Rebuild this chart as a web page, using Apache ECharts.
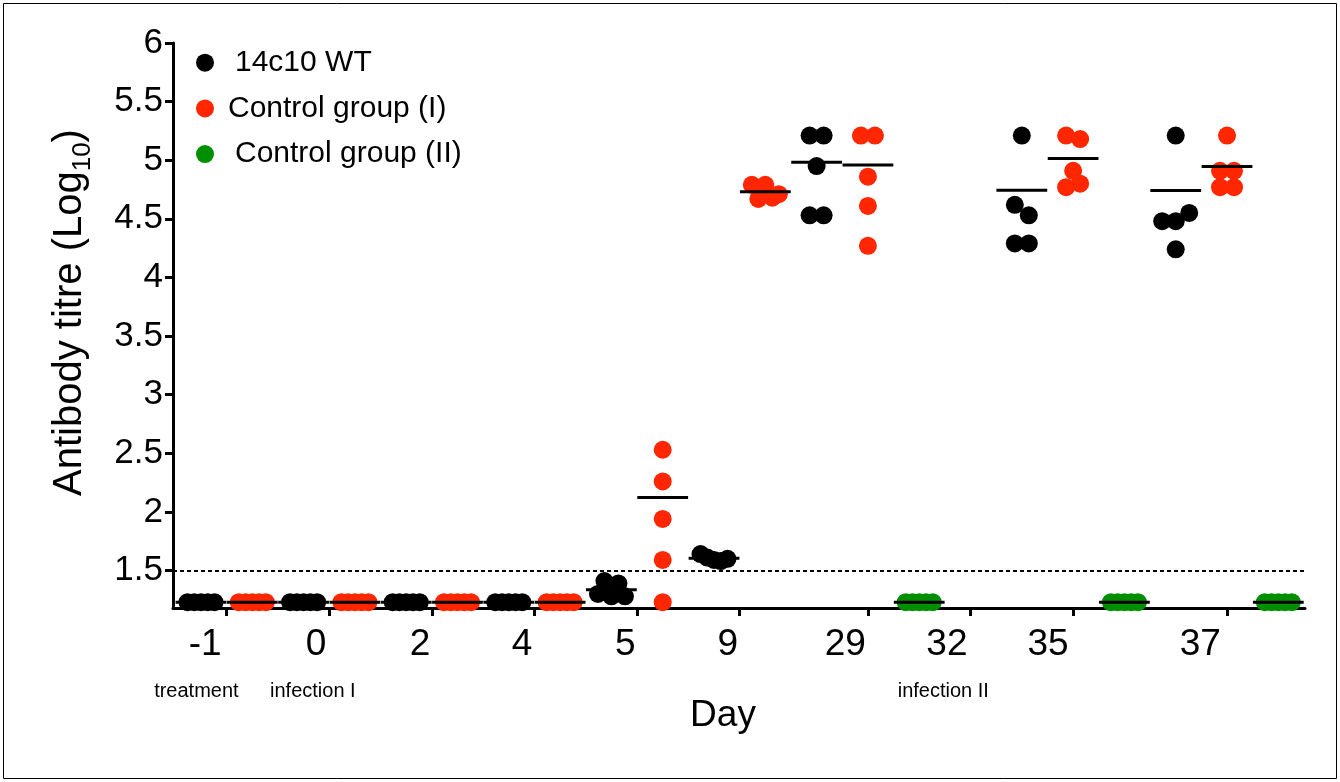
<!DOCTYPE html>
<html>
<head>
<meta charset="utf-8">
<script src="https://cdn.jsdelivr.net/npm/echarts@6/dist/echarts.min.js"></script>
<style>
  html, body { margin: 0; padding: 0; background: #fff; }
  #chart { width: 1340px; height: 782px; }
</style>
</head>
<body>
<div id="chart"></div>
<script>
// Study days on the x axis and the events marked beneath them
const dayLabels = ['-1', '0', '2', '4', '5', '9', '29', '32', '35', '37'];
const eventLabels = ['treatment', 'infection I', 'infection II'];
const groupNames = ['14c10 WT', 'Control group (I)', 'Control group (II)'];
const titreTicks = [1.5, 2, 2.5, 3, 3.5, 4, 4.5, 5, 5.5, 6];
const detectionLimit = 1.5;

// One column per group and day: index into groupNames (null = empty column)
const columnGroup = [0, 1, 0, 1, 0, 1, 0, 1, 0, 1, 0, 1, 0, 1, 2, null, 0, 1, 2, 0, 1, 2];

// Antibody titres (log10), five animals per column
const columnTitres = [
  [1.23, 1.23, 1.23, 1.23, 1.23],   // day -1, 14c10 WT
  [1.23, 1.23, 1.23, 1.23, 1.23],   // day -1, control I
  [1.23, 1.23, 1.23, 1.23, 1.23],   // day 0
  [1.23, 1.23, 1.23, 1.23, 1.23],
  [1.23, 1.23, 1.23, 1.23, 1.23],   // day 2
  [1.23, 1.23, 1.23, 1.23, 1.23],
  [1.23, 1.23, 1.23, 1.23, 1.23],   // day 4
  [1.23, 1.23, 1.23, 1.23, 1.23],
  [1.41, 1.39, 1.30, 1.28, 1.28],   // day 5
  [2.53, 2.26, 1.94, 1.59, 1.23],
  [1.64, 1.61, 1.59, 1.58, 1.60],   // day 9
  [4.79, 4.79, 4.71, 4.67, 4.68],
  [5.21, 5.21, 4.95, 4.53, 4.53],   // day 29
  [5.21, 5.21, 4.86, 4.61, 4.27],
  [1.23, 1.23, 1.23, 1.23, 1.23],   // day 32, control II
  [],
  [5.21, 4.62, 4.53, 4.29, 4.29],   // day 35
  [5.21, 5.18, 4.91, 4.77, 4.80],
  [1.23, 1.23, 1.23, 1.23, 1.23],
  [5.21, 4.48, 4.48, 4.55, 4.24],   // day 37
  [5.21, 4.91, 4.91, 4.77, 4.77],
  [1.23, 1.23, 1.23, 1.23, 1.23]
];

// Axis layout (x positions are in column units)
const dayTickSlots = [0.5, 2.5, 4.5, 6.5, 8.5, 10.5, 13, 15, 17, 20];
const dayLabelSlots = [0.08, 2.24, 4.27, 6.26, 8.27, 10.27, 12.56, 14.54, 16.51, 19.48];
const eventLabelSlots = [-0.09, 2.18, 14.47];

const W = 1340, H = 782;
const GRID = { left: 173, right: 35, top: 43, bottom: 174 };
const X_MIN = -0.546, X_MAX = 21.52, Y_MIN = 1.18, Y_MAX = 6;
const FONT = '"Liberation Sans", Arial, Helvetica, sans-serif';
const COLORS = ['#000000', '#ff2600', '#008f00'];

const pxPerCol = (W - GRID.left - GRID.right) / (X_MAX - X_MIN);
const pxPerLog = (H - GRID.top - GRID.bottom) / (Y_MAX - Y_MIN);
const DOT = 18, STEP = 14, BIN_PX = 12, MAX_OFFSET = 13.5;

// Column-scatter layout: points close in value share a row and sit side by side
function spread(values) {
  const order = values.map((v, i) => i).sort((a, b) => values[b] - values[a] || a - b);
  const offsets = new Array(values.length).fill(0);
  let i = 0;
  while (i < order.length) {
    const top = values[order[i]];
    let j = i;
    while (j < order.length && (top - values[order[j]]) * pxPerLog < BIN_PX) j++;
    const row = order.slice(i, j).sort((a, b) => a - b);
    const n = row.length;
    let step = STEP;
    if (n > 1 && (n - 1) / 2 * STEP > MAX_OFFSET) step = MAX_OFFSET / ((n - 1) / 2);
    row.forEach((idx, k) => { offsets[idx] = (k - (n - 1) / 2) * step; });
    i = j;
  }
  return offsets;
}

// Mean titre shown as log10 of the arithmetic mean of the titres
function meanLog(values) {
  const m = values.reduce((s, v) => s + Math.pow(10, v), 0) / values.length;
  return Math.log10(m);
}

const seriesData = groupNames.map(() => []);
const meanData = [];
columnTitres.forEach((vals, col) => {
  const g = columnGroup[col];
  if (g === null || !vals.length) return;
  const off = spread(vals);
  vals.forEach((v, k) => seriesData[g].push([col + off[k] / pxPerCol, v]));
  meanData.push([col, meanLog(vals)]);
});

function labelAt(slots, texts) {
  return function (value) {
    for (let i = 0; i < slots.length; i++) {
      if (Math.abs(slots[i] - value) < 1e-6) return texts[i];
    }
    return '';
  };
}

const scatterSeries = groupNames.map((name, g) => ({
  name: name,
  type: 'scatter',
  symbol: 'circle',
  symbolSize: DOT,
  itemStyle: { color: COLORS[g], opacity: 1 },
  emphasis: { disabled: true },
  data: seriesData[g],
  z: 2,
  markLine: g === 0 ? {
    silent: true,
    symbol: ['none', 'none'],
    label: { show: false },
    lineStyle: { color: '#000', width: 2, type: [4, 3] },
    data: [{ yAxis: detectionLimit }]
  } : undefined
}));

const meanSeries = {
  name: 'mean',
  type: 'custom',
  z: 3,
  silent: true,
  data: meanData,
  renderItem: function (params, api) {
    const p = api.coord([api.value(0), api.value(1)]);
    const w = api.size([0.99, 0])[0];
    return {
      type: 'line',
      shape: { x1: p[0] - w / 2, y1: p[1], x2: p[0] + w / 2, y2: p[1] },
      style: { stroke: '#000', lineWidth: 3 }
    };
  }
};

const chart = echarts.init(document.getElementById('chart'), null, { renderer: 'canvas', width: W, height: H });
chart.setOption({
  animation: false,
  backgroundColor: '#fff',
  textStyle: { fontFamily: FONT },
  grid: GRID,
  legend: {
    data: groupNames,
    orient: 'vertical',
    left: 191,
    top: 42.7,
    itemGap: 15.7,
    itemWidth: 18,
    itemHeight: 18,
    icon: 'circle',
    selectedMode: false,
    formatter: function (name) {
      return name === groupNames[1] ? '{b|' + name + '}' : '{a|' + name + '}';
    },
    textStyle: {
      color: '#000',
      fontFamily: FONT,
      rich: {
        a: { fontSize: 30, lineHeight: 30, color: '#000', fontFamily: FONT, padding: [0, 0, 0, 16] },
        b: { fontSize: 30, lineHeight: 30, color: '#000', fontFamily: FONT, padding: [0, 0, 0, 9] }
      }
    }
  },
  xAxis: [{
    type: 'value',
    min: X_MIN,
    max: X_MAX,
    splitLine: { show: false },
    axisLine: { show: true, onZero: false, lineStyle: { color: '#000', width: 3 } },
    axisTick: { show: true, customValues: dayTickSlots, length: 8, lineStyle: { color: '#000', width: 3 } },
    axisLabel: {
      customValues: dayLabelSlots,
      formatter: labelAt(dayLabelSlots, dayLabels),
      fontSize: 37, color: '#000', fontFamily: FONT, margin: 18
    },
    name: 'Day',
    nameLocation: 'middle',
    nameGap: 89,
    nameTextStyle: { fontSize: 37, color: '#000', fontFamily: FONT, padding: [0, 32, 0, 0] }
  }, {
    type: 'value',
    position: 'bottom',
    min: X_MIN,
    max: X_MAX,
    splitLine: { show: false },
    axisLine: { show: false },
    axisTick: { show: false },
    axisLabel: {
      customValues: eventLabelSlots,
      formatter: labelAt(eventLabelSlots, eventLabels),
      fontSize: 20, color: '#000', fontFamily: FONT, margin: 73
    }
  }],
  yAxis: {
    type: 'value',
    min: Y_MIN,
    max: Y_MAX,
    splitLine: { show: false },
    axisLine: { show: true, onZero: false, lineStyle: { color: '#000', width: 3 } },
    axisTick: { show: true, customValues: titreTicks, length: 8, lineStyle: { color: '#000', width: 3 } },
    axisLabel: {
      customValues: titreTicks,
      formatter: function (v) { return String(v); },
      fontSize: 35, color: '#000', fontFamily: FONT, margin: 10
    },
    name: '{m|Antibody titre (Log}{s|10}{m|)}',
    nameLocation: 'middle',
    nameRotate: 90,
    nameGap: 77,
    nameTextStyle: {
      color: '#000',
      padding: [0, 0, 0, 26],
      rich: {
        m: { fontSize: 40, lineHeight: 52, color: '#000', fontFamily: FONT },
        s: { fontSize: 26, lineHeight: 26, color: '#000', fontFamily: FONT, verticalAlign: 'bottom' }
      }
    }
  },
  graphic: [{
    type: 'rect',
    silent: true,
    shape: { x: 3.5, y: 3.5, width: W - 7, height: H - 7 },
    style: { fill: null, stroke: '#000', lineWidth: 1 }
  }],
  series: scatterSeries.concat([meanSeries])
});
</script>
</body>
</html>
